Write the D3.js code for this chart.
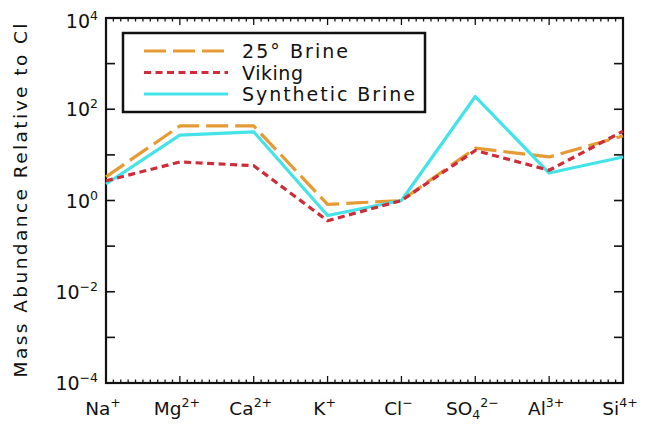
<!DOCTYPE html>
<html>
<head>
<meta charset="utf-8">
<script src="https://cdn.jsdelivr.net/npm/d3@7"></script>
<style>
  body { margin: 0; background: #fff; }
  svg { display: block; font-family: "DejaVu Sans", "Liberation Sans", sans-serif; }
</style>
</head>
<body>
<svg id="plt"></svg>
<script>
// ions along the x axis: [base, subscript, superscript]
const ions = [
    ["Na", "", "+"],
    ["Mg", "", "2+"],
    ["Ca", "", "2+"],
    ["K", "", "+"],
    ["Cl", "", "\u2212"],
    ["SO", "4", "2\u2212"],
    ["Al", "", "3+"],
    ["Si", "", "4+"]
];

const brine25 = [3.3, 43, 43, 0.82, 1.0, 14, 9, 26];
const viking = [2.7, 7, 5.8, 0.36, 1.0, 12.5, 4.6, 33];
const synthetic = [2.3, 27, 32, 0.47, 1.0, 190, 4.0, 9];

const yExponents = [-4, -2, 0, 2, 4];

const series = [
    { name: "25\u00b0 Brine", values: brine25, color: "#e69a34", dash: "22,7" },
    { name: "Synthetic Brine", values: synthetic, color: "#43e3e8", dash: null },
    { name: "Viking", values: viking, color: "#cf2b38", dash: "7,4.5" }
];
const legendOrder = [0, 2, 1];

const W = 645, H = 424;
const margin = { left: 106, top: 18, right: 22, bottom: 41 };
const pw = W - margin.left - margin.right,
    ph = H - margin.top - margin.bottom;

const svg = d3.select("#plt")
    .attr("width", W)
    .attr("height", H);

const g = svg.append("g")
    .attr("transform", "translate(" + margin.left + "," + margin.top + ")");

let x = d3.scalePoint().domain(d3.range(ions.length)).range([0, pw]);
let y = d3.scaleLog().domain([1e-4, 1e4]).range([ph, 0]);

// minor ticks on x (10 per category step)
const step = x.step();
const xMinor = d3.range(0, (ions.length - 1) * 10 + 1).map(k => k * step / 10);

g.selectAll(".xminB").data(xMinor).enter().append("line")
    .attr("x1", d => d).attr("x2", d => d)
    .attr("y1", ph).attr("y2", (d, i) => ph - (i % 10 === 0 ? 7 : 3.5))
    .attr("stroke", "#111").attr("stroke-width", 1.3);
g.selectAll(".xminT").data(xMinor).enter().append("line")
    .attr("x1", d => d).attr("x2", d => d)
    .attr("y1", 0).attr("y2", (d, i) => (i % 10 === 0 ? 7 : 3.5))
    .attr("stroke", "#111").attr("stroke-width", 1.3);

// y ticks every decade, both sides
const yTicks = d3.range(-4, 5).map(e => Math.pow(10, e));
g.selectAll(".yl").data(yTicks).enter().append("line")
    .attr("x1", 0).attr("x2", 9)
    .attr("y1", d => y(d)).attr("y2", d => y(d))
    .attr("stroke", "#111").attr("stroke-width", 1.6);
g.selectAll(".yr").data(yTicks).enter().append("line")
    .attr("x1", pw).attr("x2", pw - 9)
    .attr("y1", d => y(d)).attr("y2", d => y(d))
    .attr("stroke", "#111").attr("stroke-width", 1.6);

// frame
g.append("rect")
    .attr("x", 0).attr("y", 0).attr("width", pw).attr("height", ph)
    .attr("fill", "none").attr("stroke", "#111").attr("stroke-width", 2.2);

// y labels
yExponents.forEach(function (e) {
    let t = g.append("text")
        .attr("x", -8)
        .attr("y", y(Math.pow(10, e)) + 7 + (e === 4 ? 3 : 0))
        .attr("text-anchor", "end")
        .attr("font-size", 19)
        .attr("fill", "#111");
    t.append("tspan").text("10");
    t.append("tspan").attr("dy", -8).attr("font-size", 12.5)
        .text(e < 0 ? "\u2212" + (-e) : String(e));
});

// x labels
ions.forEach(function (ion, i) {
    let t = g.append("text")
        .attr("x", x(i) - 3)
        .attr("y", ph + 32)
        .attr("text-anchor", "middle")
        .attr("font-size", 18.5)
        .attr("fill", "#111");
    t.append("tspan").text(ion[0]);
    let dy = 0;
    if (ion[1]) {
        t.append("tspan").attr("dy", 4).attr("font-size", 12.5).text(ion[1]);
        dy = -4;
    }
    t.append("tspan").attr("dy", dy - 8).attr("font-size", 12.5).text(ion[2]);
});

// y title
svg.append("text")
    .attr("transform", "translate(27," + (margin.top + ph / 2) + ") rotate(-90)")
    .attr("text-anchor", "middle")
    .attr("font-size", 18.5)
    .attr("fill", "#111")
    .attr("textLength", 354)
    .attr("lengthAdjust", "spacing")
    .text("Mass Abundance Relative to Cl");

// lines
const line = d3.line()
    .x((d, i) => x(i))
    .y(d => y(d));

series.forEach(function (s) {
    g.append("path")
        .datum(s.values)
        .attr("d", line)
        .attr("fill", "none")
        .attr("stroke", s.color)
        .attr("stroke-width", 3.2)
        .attr("stroke-dasharray", s.dash)
        .attr("stroke-linejoin", "round");
});

// legend
const lg = svg.append("g").attr("transform", "translate(123,33)");
lg.append("rect")
    .attr("width", 302).attr("height", 79)
    .attr("fill", "#fff").attr("stroke", "#111").attr("stroke-width", 2.5);
const legW = [106, 61, 173];
legendOrder.forEach(function (si, k) {
    let s = series[si];
    let ly = 18 + k * 21.5;
    lg.append("line")
        .attr("x1", 21).attr("x2", 105)
        .attr("y1", ly).attr("y2", ly)
        .attr("stroke", s.color).attr("stroke-width", 3.2)
        .attr("stroke-dasharray", s.dash);
    lg.append("text")
        .attr("x", 119).attr("y", ly + 7)
        .attr("font-size", 19)
        .attr("fill", "#111")
        .attr("textLength", legW[k])
        .attr("lengthAdjust", "spacing")
        .text(s.name);
});
</script>
</body>
</html>
